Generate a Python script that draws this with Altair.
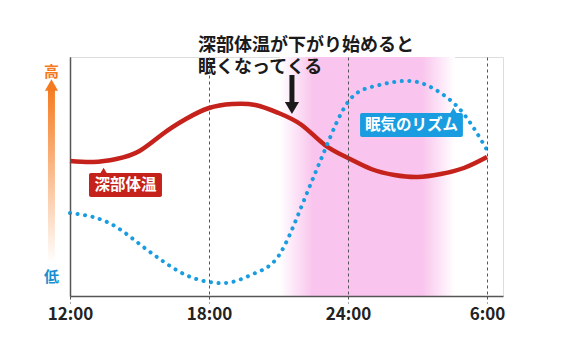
import altair as alt
import pandas as pd

# hours after 12:00
hours = list(range(19))
# vertical level (arbitrary units, 0 = low, 239 = top of plot)
temp_level = [135, 134, 137, 145, 162, 177, 188, 192, 191, 183, 171, 151, 138, 127, 121, 119, 122, 128, 139]
sleep_level = [83, 79, 69, 52, 35, 21, 14, 14, 23, 40, 90, 146, 194, 209, 214, 214, 203, 182, 146]

tick_values = [0, 6, 12, 18]
tick_labels = ["12:00", "18:00", "24:00", "6:00"]

RED = "#c4221b"
BLUE = "#1a9de0"
ORANGE = "#f57a1f"
PINK = "#f9c4ed"
JP = "Noto Sans CJK JP"

df = pd.DataFrame({"h": hours, "temp": temp_level, "sleep": sleep_level})

label_expr = " : ".join(
    [f"datum.value == {v} ? '{t}'" for v, t in zip(tick_values, tick_labels)]
) + " : ''"

xscale = alt.Scale(domain=[0, 18.69], nice=False, zero=False)
yscale = alt.Scale(domain=[0, 239], nice=False, zero=False)

xaxis = alt.Axis(values=tick_values, labelExpr=label_expr, grid=True,
                 gridDash=[3, 3], gridColor="#555", gridWidth=1,
                 tickDash=[3, 3], tickColor="#555", tickSize=7,
                 domainColor="#555", domainWidth=1.5,
                 labelFont=JP, labelFontSize=17, labelFontWeight="bold",
                 labelColor="#222", labelPadding=3, labelFlush=False,
                 labelOverlap=False, zindex=1, title=None)
yaxis = alt.Axis(domainColor="#555", domainWidth=1.5, ticks=False, labels=False,
                 grid=False, title=None)

# pink band (sleep time)
band = alt.Chart(pd.DataFrame({"x": [9.06], "x2": [16.62], "y": [0], "y2": [239]})).mark_rect(
    fill=alt.Gradient(gradient="linear", x1=0, x2=1, y1=0, y2=0,
                      stops=[alt.GradientStop(color="#ffffff", offset=0),
                             alt.GradientStop(color=PINK, offset=0.19),
                             alt.GradientStop(color=PINK, offset=0.81),
                             alt.GradientStop(color="#ffffff", offset=1)])
).encode(x=alt.X("x:Q", scale=xscale, axis=xaxis), x2="x2:Q",
         y=alt.Y("y:Q", scale=yscale, axis=yaxis), y2="y2:Q")

base = alt.Chart(df)
temp_line = base.mark_line(color=RED, strokeWidth=4.5, interpolate="natural").encode(
    x=alt.X("h:Q", scale=xscale, axis=xaxis), y=alt.Y("temp:Q", scale=yscale, axis=yaxis))
sleep_line = base.mark_line(color=BLUE, strokeWidth=4, strokeDash=[0.1, 7.5],
                            strokeCap="round", interpolate="natural").encode(
    x=alt.X("h:Q", scale=xscale, axis=xaxis), y=alt.Y("sleep:Q", scale=yscale, axis=yaxis))

# label boxes
boxes = pd.DataFrame({
    "x": [0.82, 12.52], "x2": [3.97, 16.96], "y": [99, 159], "y2": [123, 183],
    "c": [RED, BLUE]})
box_layer = alt.Chart(boxes).mark_rect(cornerRadius=2).encode(
    x=alt.X("x:Q", scale=xscale), x2="x2:Q",
    y=alt.Y("y:Q", scale=yscale), y2="y2:Q",
    color=alt.Color("c:N", scale=None))
ptrs = pd.DataFrame({"x": [1.45, 16.55], "y": [125, 185], "c": [RED, BLUE]})
ptr_layer = alt.Chart(ptrs).mark_point(shape="triangle-up", filled=True, opacity=1, size=60).encode(
    x=alt.X("x:Q", scale=xscale), y=alt.Y("y:Q", scale=yscale),
    color=alt.Color("c:N", scale=None))
labels = pd.DataFrame({"x": [2.40, 14.74], "y": [111, 171], "t": ["深部体温", "眠気のリズム"]})
label_layer = alt.Chart(labels).mark_text(
    font=JP, fontSize=15.5, fontWeight="bold", color="white", baseline="middle", align="center"
).encode(x=alt.X("x:Q", scale=xscale), y=alt.Y("y:Q", scale=yscale), text="t:N")

# annotation
ann = pd.DataFrame({"x": [5.53], "y": [250.5], "t": ["深部体温が下がり始めると\n眠くなってくる"]})
ann_text = alt.Chart(ann).mark_text(
    font=JP, fontSize=18, fontWeight="bold", color="#1a1a1a", align="left", baseline="middle",
    lineBreak="\n", lineHeight=22
).encode(x=alt.X("x:Q", scale=xscale), y=alt.Y("y:Q", scale=yscale), text="t:N")

arrow_shaft = alt.Chart(pd.DataFrame({"x": [9.58], "y": [221], "y2": [194]})).mark_rule(
    color="#1a1a1a", strokeWidth=5).encode(
    x=alt.X("x:Q", scale=xscale), y=alt.Y("y:Q", scale=yscale), y2="y2:Q")
arrow_head = alt.Chart(pd.DataFrame({"x": [9.58], "y": [188]})).mark_point(
    shape="triangle-down", filled=True, opacity=1, size=200, color="#1a1a1a").encode(
    x=alt.X("x:Q", scale=xscale), y=alt.Y("y:Q", scale=yscale))

# left high/low arrow
larrow = alt.Chart(pd.DataFrame({"x": [-0.95], "x2": [-0.65], "y": [33], "y2": [209]})).mark_rect(
    fill=alt.Gradient(gradient="linear", x1=0, x2=0, y1=0, y2=1,
                      stops=[alt.GradientStop(color=ORANGE, offset=0),
                             alt.GradientStop(color="#ffffff", offset=1)])
).encode(x=alt.X("x:Q", scale=xscale), x2="x2:Q", y=alt.Y("y:Q", scale=yscale), y2="y2:Q")
lhead = alt.Chart(pd.DataFrame({"x": [-0.80], "y": [211]})).mark_point(
    shape="triangle-up", filled=True, opacity=1, size=170, color=ORANGE).encode(
    x=alt.X("x:Q", scale=xscale), y=alt.Y("y:Q", scale=yscale))
hilo = pd.DataFrame({"x": [-0.80, -0.80], "y": [224, 19], "t": ["高", "低"], "c": [ORANGE, "#1a8fd0"]})
hilo_layer = alt.Chart(hilo).mark_text(font=JP, fontSize=15, fontWeight="bold", baseline="middle").encode(
    x=alt.X("x:Q", scale=xscale), y=alt.Y("y:Q", scale=yscale), text="t:N",
    color=alt.Color("c:N", scale=None))

chart = alt.layer(
    band, temp_line, sleep_line, box_layer, ptr_layer, label_layer,
    ann_text, arrow_shaft, arrow_head, larrow, lhead, hilo_layer
).properties(
    width=433, height=239, autosize=alt.AutoSizeParams(type="none"),
    padding={"left": 62, "top": 49, "right": 56, "bottom": 52}
).configure_view(strokeWidth=0).configure(background="white")

chart.save("out.html", embed_options={"renderer": "svg", "actions": False})
